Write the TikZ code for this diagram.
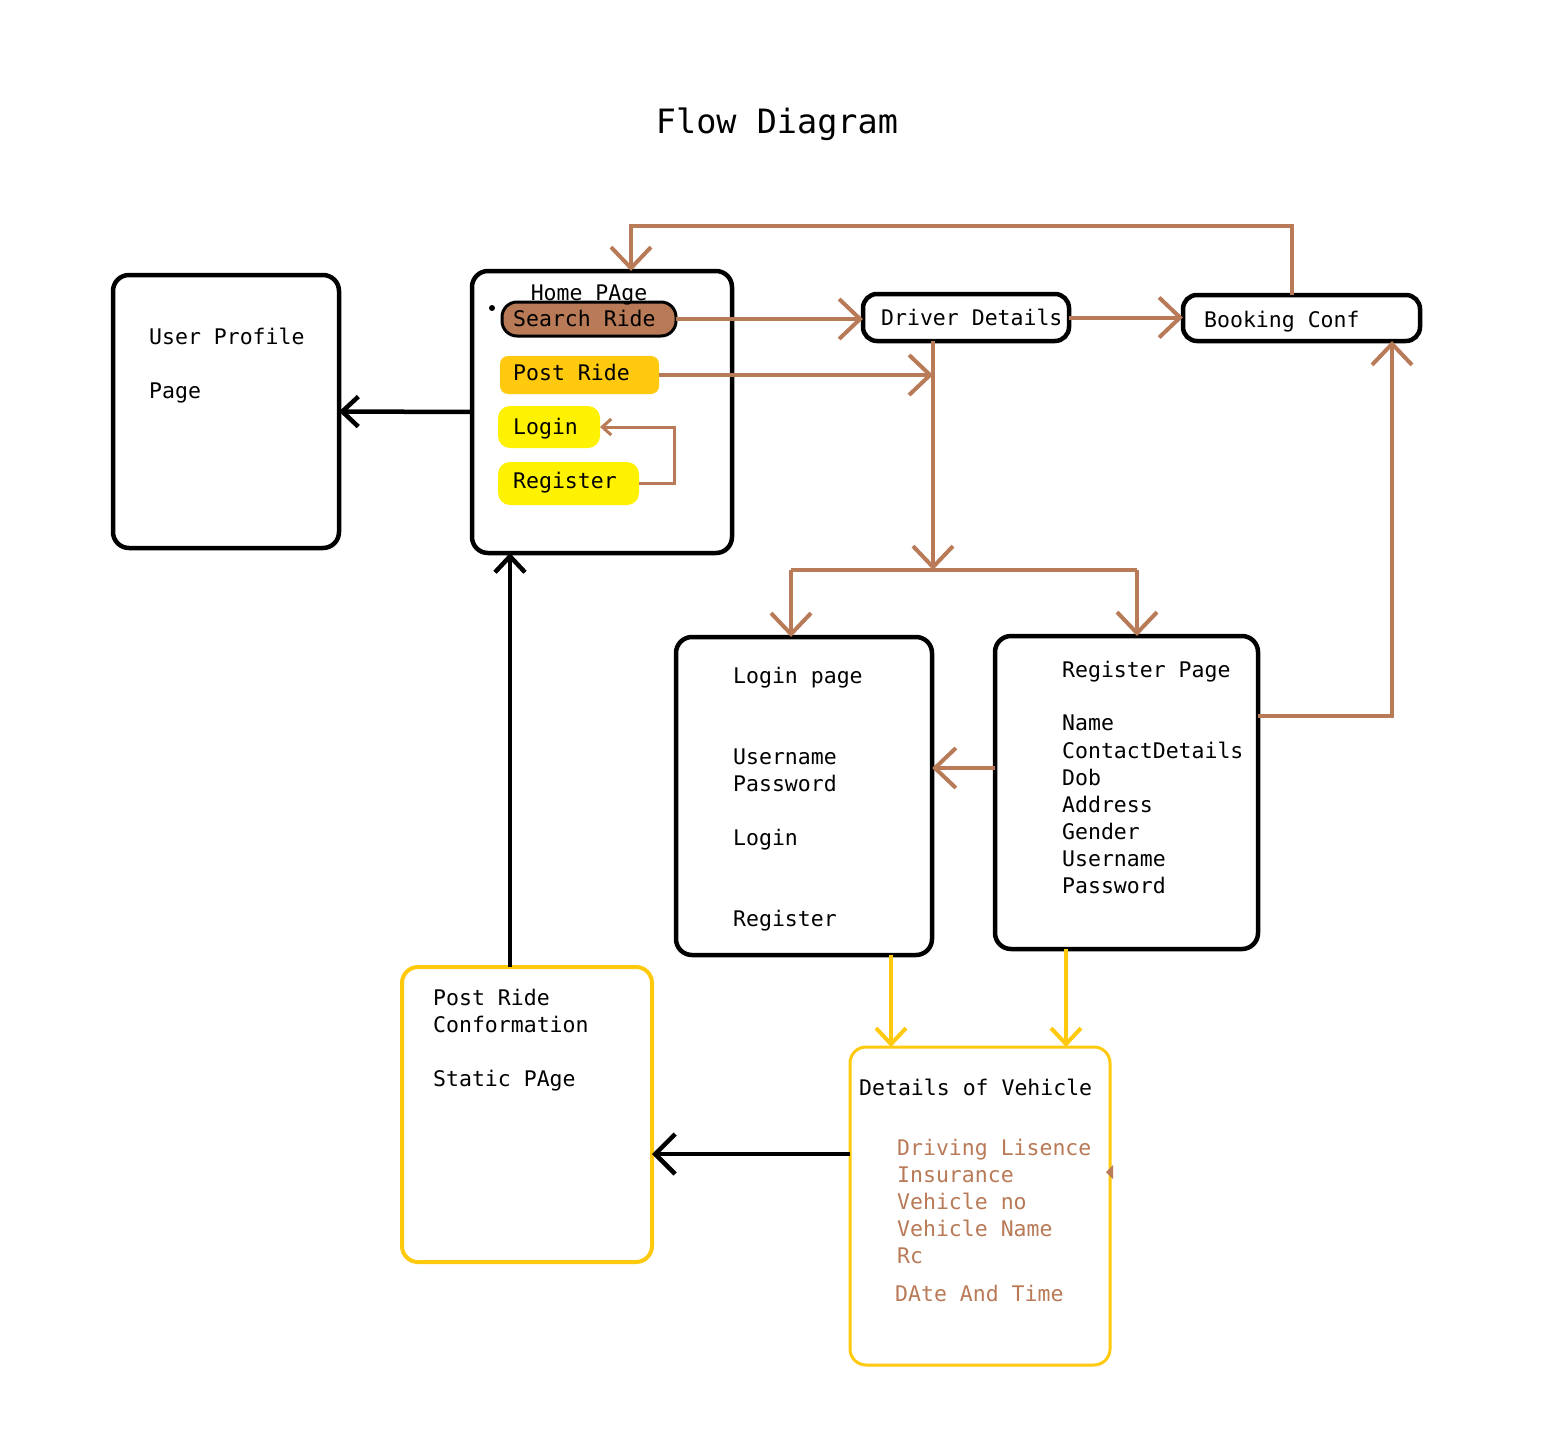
\documentclass[tikz,border=0pt]{standalone}
\usepackage{fontspec}
\setmainfont{DejaVu Sans Mono}
\usetikzlibrary{arrows.meta}
\definecolor{brn}{HTML}{B97A57}
\definecolor{gld}{HTML}{FFC90E}
\definecolor{ylw}{HTML}{FFF200}
\tikzset{
  txt/.style={anchor=base west, inner sep=0pt, font=\fontsize{21.5pt}{26pt}\selectfont},
  btxt/.style={txt, text=brn},
  blkbox/.style={draw=black, line width=4.5pt, rounded corners=16pt, anchor=north west, inner sep=0pt, outer sep=0pt},
  gldbox/.style={draw=gld, line width=4pt, rounded corners=16pt, anchor=north west, inner sep=0pt, outer sep=0pt},
  pill/.style={anchor=north west, inner sep=0pt, outer sep=0pt},
  brnline/.style={draw=brn, line width=4pt},
  barb/.style={-{Straight Barb[length=21pt,width=40pt]}},
  smallbarb/.style={-{Straight Barb[length=9pt,width=16pt]}},
  blkline/.style={draw=black, line width=4.5pt},
  blkbarb/.style={-{Straight Barb[length=16pt,width=30pt]}},
  gldline/.style={draw=gld, line width=4pt},
}
\begin{document}
\begin{tikzpicture}[x=1pt,y=-1pt]
\useasboundingbox[fill=white] (0,0) rectangle (1544,1432);

% title
\node[anchor=base, inner sep=0pt, font=\fontsize{33.5pt}{40pt}\selectfont] (title) at (777,133) {Flow Diagram};

% boxes
\node[blkbox, minimum width=226pt, minimum height=273pt] (up) at (113,275) {};
\node[blkbox, minimum width=260pt, minimum height=282pt] (home) at (472,271) {};
\node[blkbox, minimum width=206pt, minimum height=47pt, rounded corners=14pt] (driver) at (863,294) {};
\node[blkbox, minimum width=237pt, minimum height=46pt, rounded corners=14pt] (booking) at (1183,295) {};
\node[blkbox, minimum width=256pt, minimum height=318pt] (lp) at (676,637) {};
\node[blkbox, minimum width=263pt, minimum height=313pt] (rp) at (995,636) {};
\node[gldbox, minimum width=250pt, minimum height=295pt] (prc) at (402,967) {};
\node[gldbox, line width=3pt, minimum width=260pt, minimum height=318pt] (dv) at (850,1047) {};

% pills in home page
\node[pill, draw=black, line width=3pt, fill=brn, rounded corners=15pt, minimum width=174pt, minimum height=34pt] (search) at (502,302) {};
\node[pill, fill=gld, rounded corners=8pt, minimum width=159pt, minimum height=38pt] (postr) at (500,356) {};
\node[pill, fill=ylw, rounded corners=12pt, minimum width=102pt, minimum height=42pt] (login) at (498,406) {};
\node[pill, fill=ylw, rounded corners=12pt, minimum width=141pt, minimum height=43pt] (reg) at (498,462) {};
\fill[black] (492,308) circle (3pt);

% texts
\node[txt] (t-up1) at (149,344) {User Profile};
\node[txt] (t-up2) at (149,398) {Page};
\node[txt, anchor=base] (t-home) at (589,300) {Home PAge};
\node[txt] (t-search) at (513,326) {Search Ride};
\node[txt] (t-post) at (513,380) {Post Ride};
\node[txt] (t-login) at (513,434) {Login};
\node[txt] (t-reg) at (513,488) {Register};
\node[txt] (t-driver) at (881,325) {Driver Details};
\node[txt] (t-book) at (1204,327) {Booking Conf};

\node[txt] (t-lp1) at (733,683) {Login page};
\node[txt] (t-lp2) at (733,764) {Username};
\node[txt] (t-lp3) at (733,791) {Password};
\node[txt] (t-lp4) at (733,845) {Login};
\node[txt] (t-lp5) at (733,926) {Register};

\node[txt] (t-rp1) at (1062,677) {Register Page};
\node[txt] (t-rp2) at (1062,730) {Name};
\node[txt] (t-rp3) at (1062,758) {ContactDetails};
\node[txt] (t-rp4) at (1062,785) {Dob};
\node[txt] (t-rp5) at (1062,812) {Address};
\node[txt] (t-rp6) at (1062,839) {Gender};
\node[txt] (t-rp7) at (1062,866) {Username};
\node[txt] (t-rp8) at (1062,893) {Password};

\node[txt] (t-prc1) at (433,1005) {Post Ride};
\node[txt] (t-prc2) at (433,1032) {Conformation};
\node[txt] (t-prc3) at (433,1086) {Static PAge};

\node[txt] (t-dv0) at (859,1095) {Details of Vehicle};
\node[btxt] (t-dv1) at (897,1155) {Driving Lisence};
\node[btxt] (t-dv2) at (897,1182) {Insurance};
\node[btxt] (t-dv3) at (897,1209) {Vehicle no};
\node[btxt] (t-dv4) at (897,1236) {Vehicle Name};
\node[btxt] (t-dv5) at (897,1263) {Rc};
\node[btxt] (t-dv6) at (895,1301) {DAte And Time};

% coordinates
\coordinate (dtop) at (933,341);
\coordinate (split) at (933,570);
\coordinate (sl) at (791,570);
\coordinate (sr) at (1137,570);
\coordinate (topl) at (631,226);
\coordinate (rpr) at (1392,716);
\coordinate (rl) at (0,768);
\coordinate (rlx) at (674,0);
\coordinate (pv) at (510,0);
\coordinate (hv) at (0,1154);
\coordinate (g1) at (891,0);
\coordinate (g2) at (1066,0);

% brown connectors
\draw[brnline, barb] (search.east) -- (search.east -| driver.west);
\draw[brnline, barb] (postr.east) -- (postr.east -| dtop);
\draw[brnline, barb] (dtop) -- (split);
\draw[brnline] (sl) -- (sr);
\draw[brnline, barb] (sl) -- (sl |- lp.north);
\draw[brnline, barb] (sr) -- (sr |- rp.north);
\draw[brnline, barb] (driver.east) -- (driver.east -| booking.west);
\draw[brnline, barb] ([xshift=-10pt]booking.north) |- (topl) -- (topl |- home.north);
\draw[brnline, barb] (rpr -| rp.east) -- (rpr) -- (rpr |- booking.south);
\draw[brnline, barb] (rl -| rp.west) -- (rl -| lp.east);
\draw[brnline, line width=3pt, smallbarb] (reg.east) -- (reg.east -| rlx) -- (rlx |- login.east) -- (login.east);
\fill[brn] (1106,1172) -- (1113,1165) -- (1113,1179) -- cycle;

% black connectors
\draw[blkline, blkbarb] (home.west) -- (up.east);
\draw[blkline, blkbarb] (pv |- prc.north) -- (pv |- home.south);
\draw[blkline, -{Straight Barb[length=20pt,width=40pt]}] (hv -| dv.west) -- (hv -| prc.east);

% gold connectors
\draw[gldline, blkbarb] (g1 |- lp.south) -- (g1 |- dv.north);
\draw[gldline, blkbarb] (g2 |- rp.south) -- (g2 |- dv.north);
\end{tikzpicture}
\end{document}
